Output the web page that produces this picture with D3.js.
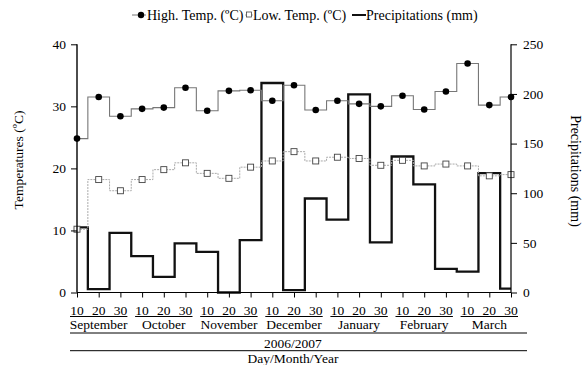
<!DOCTYPE html>
<html><head><meta charset="utf-8">
<script src="https://cdn.jsdelivr.net/npm/d3@7"></script>
<style>
html,body{margin:0;padding:0;background:#fff;}
svg{display:block;font-family:"Liberation Serif","Times New Roman",serif;}
</style></head>
<body>
<svg id="c" width="583" height="365"></svg>
<script>
const months = ["September","October","November","December","January","February","March"];
const days = ["10","20","30"];
const yearLabel = "2006/2007";
const xTitle = "Day/Month/Year";
const highTemp = [24.8,31.5,28.4,29.6,29.8,33.0,29.3,32.5,32.6,30.9,33.4,29.4,30.9,30.4,30.0,31.7,29.5,32.4,36.9,30.2,31.5];
const lowTemp  = [10.2,18.2,16.4,18.2,19.8,20.9,19.2,18.4,20.2,21.2,22.7,21.2,21.8,21.6,20.5,21.3,20.4,20.7,20.4,18.8,19.0];
const precip   = [65.5,3.3,60,36.6,15.7,49.4,41,0,52.7,211,2.3,94.7,73.5,199.5,50.4,137,109,23.8,21.1,120.2,4];
const tempTicks = [0,10,20,30,40];
const precipTicks = [0,50,100,150,200,250];

const categories = [];
months.forEach(m => days.forEach(d => categories.push(m + " " + d)));

const svg = d3.select("#c");
const x = d3.scalePoint().domain(categories).range([77, 511]);
const yT = d3.scaleLinear().domain([0,40]).range([292.5, 44.3]);
const yP = d3.scaleLinear().domain([0,250]).range([292.5, 44.3]);

// precipitation
const lineP = d3.line().x((d,i)=>x(categories[i])).y(d=>yP(d)).curve(d3.curveStep);
svg.append("path").attr("d", lineP(precip)).attr("fill","none").attr("stroke","#111").attr("stroke-width",2.3);

// temperatures
const lineT = d3.line().x((d,i)=>x(categories[i])).y(d=>yT(d)).curve(d3.curveStep);
svg.append("path").attr("d", lineT(highTemp)).attr("fill","none").attr("stroke","#777").attr("stroke-width",1.1);
svg.append("path").attr("d", lineT(lowTemp)).attr("fill","none").attr("stroke","#aaa").attr("stroke-width",1).attr("stroke-dasharray","2,1");

svg.selectAll("circle.h").data(highTemp).enter().append("circle")
  .attr("cx",(d,i)=>x(categories[i])).attr("cy",d=>yT(d)).attr("r",3.3).attr("fill","#000");
svg.selectAll("rect.l").data(lowTemp).enter().append("rect")
  .attr("x",(d,i)=>x(categories[i])-3).attr("y",d=>yT(d)-3).attr("width",6).attr("height",6)
  .attr("fill","#fff").attr("stroke","#444").attr("stroke-width",0.9);

// axes
const axL = d3.axisLeft(yT).tickValues(tempTicks).tickSize(6).tickPadding(5).tickFormat(d3.format("d"));
const gL = svg.append("g").attr("transform","translate(77,0)").call(axL);
const axR = d3.axisRight(yP).tickValues(precipTicks).tickSize(6).tickPadding(6).tickFormat(d3.format("d"));
const gR = svg.append("g").attr("transform","translate(511,0)").call(axR);
const axB = d3.axisBottom(x).tickSize(5).tickFormat("");
const gB = svg.append("g").attr("transform","translate(0,292.5)").call(axB);
[gL,gR,gB].forEach(g=>{
  g.select(".domain").attr("stroke","#000").attr("stroke-width",1.2);
  g.selectAll(".tick line").attr("stroke","#000");
  g.selectAll("text").attr("font-family","Liberation Serif, serif").attr("font-size",13.5).attr("fill","#000");
});
gL.select(".domain").attr("d","M0,292.5V44.3").attr("stroke-width",1.4);
gR.select(".domain").attr("d","M0,292.5V44.3");
gB.select(".domain").attr("d","M77,0H511");

// day labels
const bt = svg.append("g").attr("font-size",13.5).attr("fill","#000");
categories.forEach((c,i)=>{
  bt.append("text").attr("x",x(c)).attr("y",314.5).attr("text-anchor","middle").text(days[i%3]);
});
months.forEach((m,j)=>{
  const x0 = x(categories[j*3]), x1 = x(categories[j*3+2]), xm = x(categories[j*3+1]);
  svg.append("line").attr("x1",x0-7).attr("x2",x1+7).attr("y1",316.5).attr("y2",316.5).attr("stroke","#000").attr("stroke-width",1);
  bt.append("text").attr("x",xm).attr("y",329).attr("text-anchor","middle").text(m);
});
svg.append("line").attr("x1",70).attr("x2",527).attr("y1",333).attr("y2",333).attr("stroke","#000").attr("stroke-width",1);
bt.append("text").attr("x",293).attr("y",347.5).attr("text-anchor","middle").text(yearLabel);
svg.append("line").attr("x1",70).attr("x2",527).attr("y1",350.7).attr("y2",350.7).attr("stroke","#000").attr("stroke-width",1);
bt.append("text").attr("x",293).attr("y",362.5).attr("text-anchor","middle").text(xTitle);

// axis titles
svg.append("text").attr("transform","translate(23,160) rotate(-90)").attr("text-anchor","middle")
  .attr("font-size",13.5).text("Temperatures (ºC)");
svg.append("text").attr("transform","translate(571,171) rotate(90)").attr("text-anchor","middle")
  .attr("font-size",14).text("Precipitations (mm)");

// legend
const lg = svg.append("g").attr("font-size",14);
lg.append("line").attr("x1",132).attr("x2",146).attr("y1",15).attr("y2",15).attr("stroke","#777");
lg.append("circle").attr("cx",141).attr("cy",15).attr("r",3.2).attr("fill","#000");
lg.append("text").attr("x",147).attr("y",19.5).text("High. Temp. (ºC)");
lg.append("line").attr("x1",245).attr("x2",253).attr("y1",15).attr("y2",15).attr("stroke","#aaa");
lg.append("rect").attr("x",246.5).attr("y",12).attr("width",5).attr("height",5).attr("fill","#fff").attr("stroke","#444").attr("stroke-width",0.8);
lg.append("text").attr("x",253).attr("y",19.5).text("Low. Temp. (ºC)");
lg.append("line").attr("x1",352).attr("x2",366).attr("y1",15).attr("y2",15).attr("stroke","#111").attr("stroke-width",2);
lg.append("text").attr("x",366).attr("y",19.5).text("Precipitations (mm)");
</script>
</body></html>
